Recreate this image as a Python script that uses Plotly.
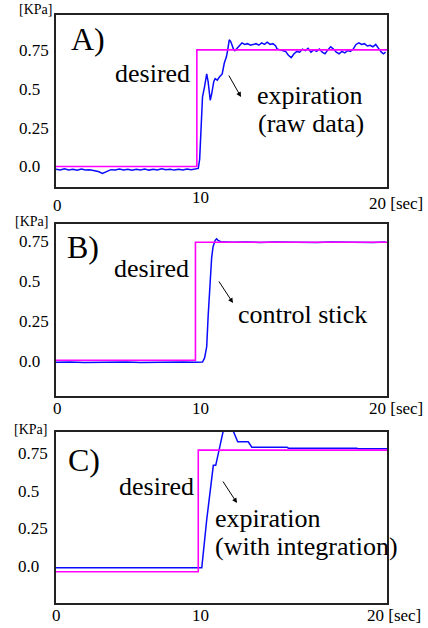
import plotly.graph_objects as go

W, H = 428, 628

# ---------------- data ----------------
Y_TICK_VALUES = [0.0, 0.25, 0.5, 0.75]
Y_TICK_LABELS = ["0.0", "0.25", "0.5", "0.75"]
X_TICK_LABELS = ["0", "10", "20 [sec]"]
PANEL_LABELS = ["A)", "B)", "C)"]
UNIT_LABEL = "[KPa]"

# Panel A: desired and raw expiration
a_desired_t = [0.0, 10.0, 10.0, 23.5]
a_desired_y = [0.002, 0.002, 0.755, 0.755]
a_meas_t = [0.0, 0.3, 0.6, 0.9, 1.2, 1.5, 1.8, 2.1, 2.4, 2.7, 3.0, 3.3, 3.6, 3.9,
            4.2, 4.5, 4.8, 5.1, 5.4, 5.7, 6.0, 6.3, 6.6, 6.9, 7.2, 7.5, 7.8, 8.1,
            8.4, 8.7, 9.0, 9.3, 9.6, 9.9, 10.1, 10.2, 10.3, 10.4, 10.55, 10.7,
            10.8, 10.9, 10.95, 11.05, 11.2, 11.3, 11.45, 11.6, 11.8, 11.95, 12.1,
            12.2, 12.3, 12.4, 12.5, 12.6, 12.7, 12.85, 13.0, 13.2, 13.4, 13.6,
            13.8, 14.0, 14.2, 14.4, 14.6, 14.8, 15.0, 15.2, 15.4, 15.6, 15.7,
            15.9, 16.1, 16.3, 16.5, 16.7, 16.9, 17.1, 17.3, 17.5, 17.7, 17.9,
            18.1, 18.3, 18.5, 18.7, 18.9, 19.1, 19.3, 19.5, 19.7, 19.9, 20.1,
            20.3, 20.5, 20.7, 20.9, 21.1, 21.3, 21.5, 21.7, 21.9, 22.1, 22.3,
            22.5, 22.7, 22.9, 23.1, 23.25, 23.4]
a_meas_y = [-0.015, -0.02, -0.012, -0.02, -0.016, -0.022, -0.014, -0.02, -0.018,
            -0.022, -0.03, -0.042, -0.028, -0.018, -0.02, -0.014, -0.02, -0.016,
            -0.022, -0.015, -0.02, -0.014, -0.021, -0.016, -0.02, -0.013, -0.019,
            -0.015, -0.021, -0.016, -0.02, -0.014, -0.019, -0.016, -0.01, 0.05,
            0.30, 0.45, 0.52, 0.60, 0.55, 0.45, 0.43, 0.47, 0.55, 0.57, 0.56,
            0.58, 0.60, 0.67, 0.71, 0.76, 0.82, 0.81, 0.78, 0.76, 0.75, 0.765,
            0.78, 0.80, 0.79, 0.795, 0.785, 0.79, 0.795, 0.785, 0.80, 0.79, 0.805,
            0.79, 0.795, 0.78, 0.76, 0.755, 0.75, 0.745, 0.72, 0.705, 0.73, 0.745,
            0.74, 0.76, 0.75, 0.765, 0.74, 0.755, 0.745, 0.76, 0.74, 0.73, 0.755,
            0.775, 0.76, 0.74, 0.73, 0.745, 0.735, 0.75, 0.745, 0.76, 0.79, 0.80,
            0.79, 0.795, 0.78, 0.785, 0.775, 0.79, 0.765, 0.74, 0.73, 0.74]

# Panel B: desired and control stick
b_desired_t = [0.0, 9.9, 9.9, 23.5]
b_desired_y = [0.005, 0.005, 0.748, 0.748]
b_meas_t = [0.0, 1.0, 2.0, 3.0, 4.0, 5.0, 6.0, 7.0, 8.0, 9.0, 10.0, 10.4, 10.55,
            10.7, 10.8, 10.93, 11.05, 11.15, 11.3, 11.4, 11.5, 11.7, 12.5, 13.5,
            14.5, 15.5, 16.5, 17.5, 18.5, 19.5, 20.5, 21.5, 22.5, 23.4]
b_meas_y = [-0.008, -0.006, -0.009, -0.007, -0.008, -0.006, -0.009, -0.007,
            -0.008, -0.006, -0.008, -0.006, 0.02, 0.09, 0.28, 0.49, 0.65, 0.72,
            0.76, 0.77, 0.76, 0.752, 0.748, 0.750, 0.747, 0.750, 0.748, 0.749,
            0.747, 0.750, 0.748, 0.749, 0.747, 0.750]

# Panel C: desired and expiration with integration
c_desired_t = [0.0, 10.1, 10.1, 23.5]
c_desired_y = [-0.033, -0.033, 0.77, 0.77]
c_meas_t = [0.0, 10.35, 10.7, 11.17, 11.34, 11.53, 11.64, 11.88, 12.57, 12.9,
            13.65, 13.9, 16.4, 16.5, 21.35, 21.45, 23.5]
c_meas_y = [-0.007, -0.007, 0.31, 0.67, 0.67, 0.75, 0.815, 0.90, 0.90, 0.825,
            0.825, 0.79, 0.79, 0.783, 0.783, 0.78, 0.78]

panels = [
    (a_desired_t, a_desired_y, a_meas_t, a_meas_y),
    (b_desired_t, b_desired_y, b_meas_t, b_meas_y),
    (c_desired_t, c_desired_y, c_meas_t, c_meas_y),
]

# ---------------- layout geometry ----------------
def P(px, py):
    return px / W, 1 - py / H

SERIF = "Liberation Serif, Times New Roman, serif"
BLUE = "#0a0aff"
MAGENTA = "#ff00ff"

boxes = [(15, 187), (224, 396), (432, 603)]      # top/bottom pixel rows
yranges = [[-0.13, 0.98], [-0.22, 0.863], [-0.24, 0.89]]
xdom = [56 / W, 387 / W]

fig = go.Figure()
for i, (dt, dy, mt, my) in enumerate(panels):
    sfx = "" if i == 0 else str(i + 1)
    fig.add_trace(go.Scatter(x=mt, y=my, mode="lines",
                             line=dict(color=BLUE, width=1.5),
                             xaxis="x" + sfx, yaxis="y" + sfx, showlegend=False,
                             hoverinfo="skip"))
    fig.add_trace(go.Scatter(x=dt, y=dy, mode="lines",
                             line=dict(color=MAGENTA, width=1.6),
                             xaxis="x" + sfx, yaxis="y" + sfx, showlegend=False,
                             hoverinfo="skip"))

layout = dict(width=W, height=H, margin=dict(l=0, r=0, t=0, b=0),
              paper_bgcolor="white", plot_bgcolor="white", showlegend=False,
              font=dict(family=SERIF, color="black"))
axis_common = dict(showline=True, mirror=True, linecolor="#222", linewidth=1.5,
                   showgrid=False, zeroline=False, showticklabels=False,
                   ticks="", fixedrange=True)
for i, (top, bot) in enumerate(boxes):
    sfx = "" if i == 0 else str(i + 1)
    layout["xaxis" + sfx] = dict(axis_common, domain=xdom, range=[0, 23.5],
                                 anchor="y" + sfx)
    layout["yaxis" + sfx] = dict(axis_common, domain=[1 - bot / H, 1 - top / H],
                                 range=yranges[i], anchor="x" + sfx)

ann = []

def text(t, px, py, size, xanchor="left"):
    x, y = P(px, py)
    ann.append(dict(text=t, x=x, y=y, xref="paper", yref="paper",
                    xanchor=xanchor, yanchor="middle", showarrow=False,
                    font=dict(family=SERIF, size=size, color="black")))

def arrow(tail, head):
    hx, hy = P(*head)
    ann.append(dict(text="", x=hx, y=hy, xref="paper", yref="paper",
                    ax=tail[0] - head[0], ay=tail[1] - head[1],
                    showarrow=True, arrowhead=2, arrowsize=1, arrowwidth=1,
                    arrowcolor="black", standoff=0))

# y tick labels (left aligned) and unit labels
tick_left = [17, 17, 16]
unit_pos = [(17, 10), (13, 221), (12, 429)]
for i in range(3):
    yref = "y" if i == 0 else "y" + str(i + 1)
    for v, lab in zip(Y_TICK_VALUES, Y_TICK_LABELS):
        ann.append(dict(text=lab, x=tick_left[i] / W, y=v, xref="paper", yref=yref,
                        xanchor="left", yanchor="middle", showarrow=False,
                        font=dict(family=SERIF, size=17, color="black")))
    text(UNIT_LABEL, unit_pos[i][0], unit_pos[i][1], 14)

# x tick labels
xt_pos = [
    [(58, 205), (200, 197), (367, 204)],
    [(58, 408), (200, 408), (367, 408)],
    [(57, 615), (200, 615), (365, 615)],
]
for i in range(3):
    for j, lab in enumerate(X_TICK_LABELS):
        px, py = xt_pos[i][j]
        text(lab, px, py, 17, xanchor="center" if j < 2 else "left")

# panel letters and text labels
text(PANEL_LABELS[0], 88, 39, 32, "center")
text(PANEL_LABELS[1], 83, 247, 32, "center")
text(PANEL_LABELS[2], 84, 460, 32, "center")

text("desired", 113, 73, 26)
text("desired", 112, 268, 26)
text("desired", 117, 486, 26)

text("expiration", 255, 96, 26)
text("(raw data)", 256, 124, 26)
text("control stick", 236, 314, 26)
text("expiration", 213, 518, 26)
text("(with integration)", 213, 546, 26)

arrow((228, 74), (241, 97))
arrow((218, 280), (233, 303))
arrow((222, 480), (237, 503))

layout["annotations"] = ann
fig.update_layout(**layout)
fig.write_html("out.html", config={"displayModeBar": False},
               post_script="document.body.style.margin='0';")
